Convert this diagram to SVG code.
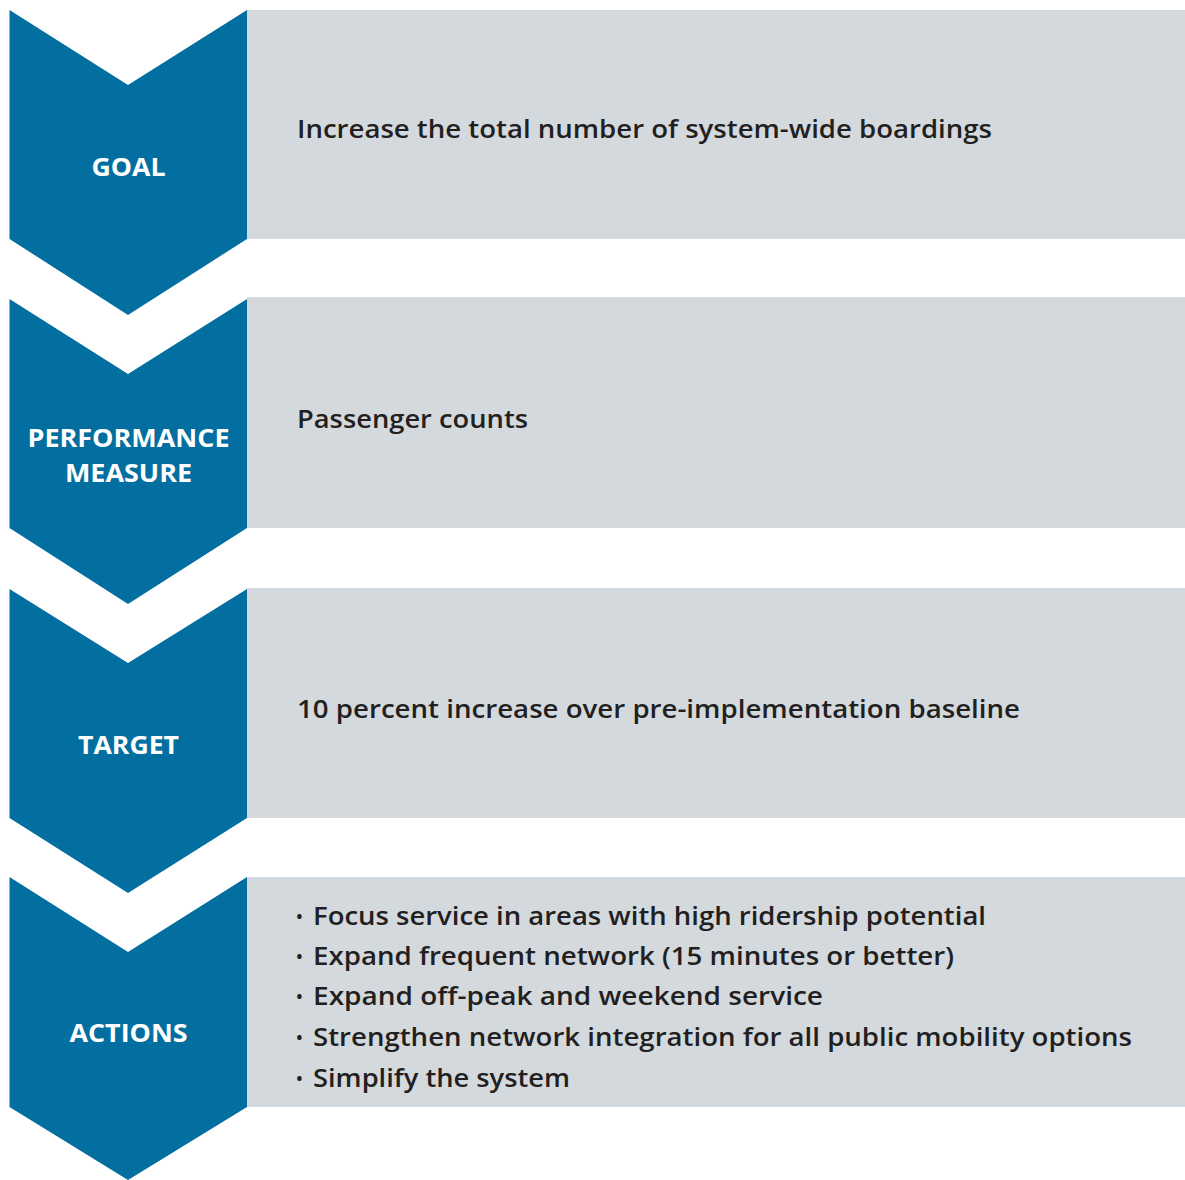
<svg xmlns="http://www.w3.org/2000/svg" width="1185" height="1180" viewBox="0 0 1185 1180">
<style>
.chev{fill:#036fa0}
.panel{fill:#d4d9de}
.lbl{font-family:"Open Sans",Lato,"Liberation Sans",sans-serif;font-weight:700;font-size:25px;fill:#ffffff;text-anchor:middle}
.txt{font-family:"Open Sans",Lato,"Liberation Sans",sans-serif;font-weight:600;font-size:25.5px;fill:#231f20}
.bul{font-family:"Open Sans",Lato,"Liberation Sans",sans-serif;font-weight:600;font-size:18px;fill:#231f20}
</style>
<rect width="1185" height="1180" fill="#ffffff"/>
<g id="goal">
<rect class="panel" x="247" y="10" width="938" height="229"/>
<polygon class="chev" points="9.5,10 128,85 247,10 247,239 128,315 9.5,239"/>
<text class="lbl" x="128.5" y="176" textLength="74" lengthAdjust="spacingAndGlyphs">GOAL</text>
<text class="txt" x="297" y="138" textLength="695" lengthAdjust="spacingAndGlyphs">Increase the total number of system-wide boardings</text>
</g>
<g id="performance-measure">
<rect class="panel" x="247" y="297" width="938" height="231"/>
<polygon class="chev" points="9.5,299 128,374 247,299 247,528 128,604 9.5,528"/>
<text class="lbl" x="128.5" y="447" textLength="202" lengthAdjust="spacingAndGlyphs">PERFORMANCE</text>
<text class="lbl" x="128.5" y="482" textLength="127" lengthAdjust="spacingAndGlyphs">MEASURE</text>
<text class="txt" x="297" y="428" textLength="231" lengthAdjust="spacingAndGlyphs">Passenger counts</text>
</g>
<g id="target">
<rect class="panel" x="247" y="588" width="938" height="230"/>
<polygon class="chev" points="9.5,589 128,663 247,589 247,818 128,893 9.5,818"/>
<text class="lbl" x="128.5" y="754" textLength="101" lengthAdjust="spacingAndGlyphs">TARGET</text>
<text class="txt" x="297" y="718" textLength="723" lengthAdjust="spacingAndGlyphs">10 percent increase over pre-implementation baseline</text>
</g>
<g id="actions">
<rect class="panel" x="247" y="877" width="938" height="230"/>
<polygon class="chev" points="9.5,877 128,952 247,877 247,1107 128,1180 9.5,1107"/>
<text class="lbl" x="128.5" y="1042" textLength="118" lengthAdjust="spacingAndGlyphs">ACTIONS</text>
<text class="bul" x="296" y="923">•</text>
<text class="txt" x="313" y="925" textLength="673" lengthAdjust="spacingAndGlyphs">Focus service in areas with high ridership potential</text>
<text class="bul" x="296" y="963">•</text>
<text class="txt" x="313" y="965" textLength="641" lengthAdjust="spacingAndGlyphs">Expand frequent network (15 minutes or better)</text>
<text class="bul" x="296" y="1003">•</text>
<text class="txt" x="313" y="1005" textLength="510" lengthAdjust="spacingAndGlyphs">Expand off-peak and weekend service</text>
<text class="bul" x="296" y="1044">•</text>
<text class="txt" x="313" y="1046" textLength="819" lengthAdjust="spacingAndGlyphs">Strengthen network integration for all public mobility options</text>
<text class="bul" x="296" y="1085">•</text>
<text class="txt" x="313" y="1087" textLength="257" lengthAdjust="spacingAndGlyphs">Simplify the system</text>
</g>
<g id="connectors"></g>
</svg>
